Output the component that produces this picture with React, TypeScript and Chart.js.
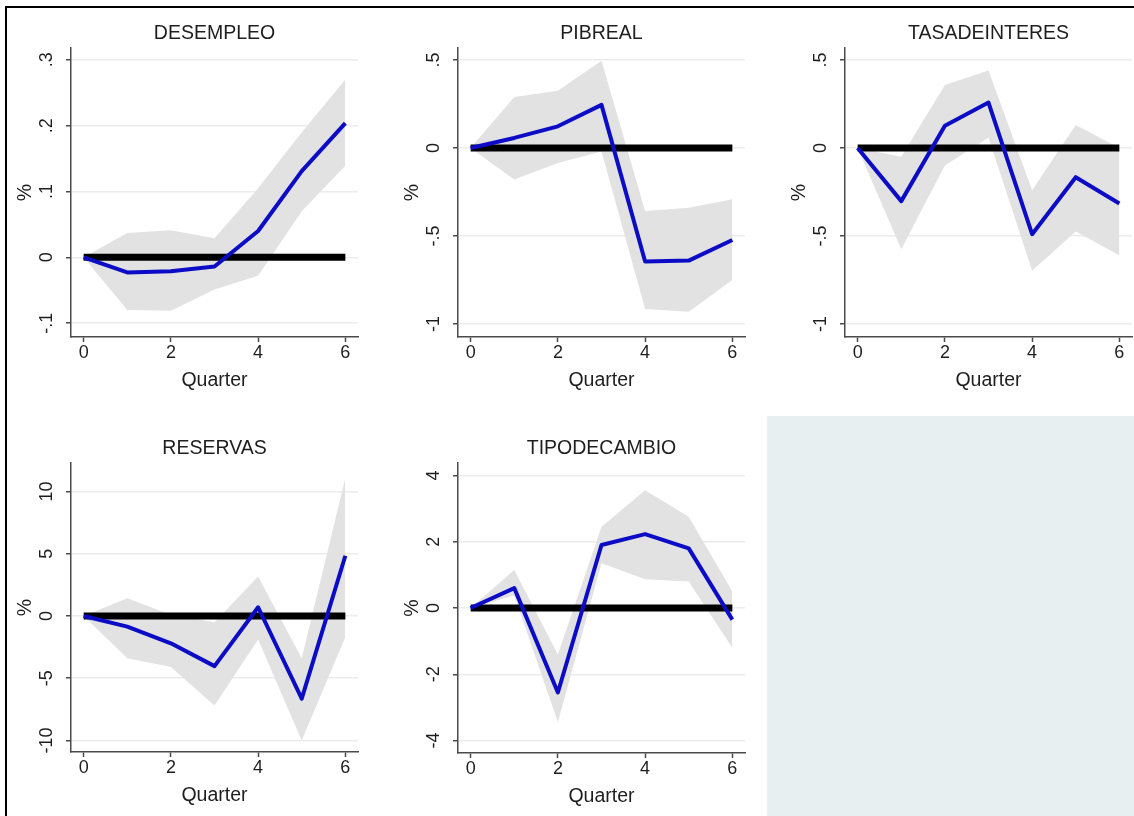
import React, { useEffect, useRef } from 'react';
import { Chart, registerables } from 'chart.js';

Chart.register(...registerables);

// ---------- data ----------
const QUARTERS = [0, 1, 2, 3, 4, 5, 6];
const X_TICKS = [0, 2, 4, 6];
const X_TITLE = 'Quarter';
const Y_TITLE = '%';

const DESEMPLEO_IRF = [0, -0.023, -0.021, -0.014, 0.04, 0.131, 0.204];
const DESEMPLEO_HI = [0, 0.037, 0.041, 0.029, 0.105, 0.19, 0.27];
const DESEMPLEO_LO = [0, -0.08, -0.081, -0.049, -0.028, 0.07, 0.139];
const DESEMPLEO_YTICKS = [-0.1, 0, 0.1, 0.2, 0.3];
const DESEMPLEO_YLABELS = ['-.1', '0', '.1', '.2', '.3'];

const PIBREAL_IRF = [0, 0.057, 0.123, 0.245, -0.645, -0.64, -0.523];
const PIBREAL_HI = [0, 0.29, 0.325, 0.496, -0.358, -0.34, -0.292];
const PIBREAL_LO = [0, -0.179, -0.085, -0.02, -0.915, -0.93, -0.75];
const PIBREAL_YTICKS = [-1, -0.5, 0, 0.5];
const PIBREAL_YLABELS = ['-1', '-.5', '0', '.5'];

const TASA_IRF = [0, -0.302, 0.126, 0.258, -0.49, -0.166, -0.315];
const TASA_HI = [0, -0.05, 0.358, 0.44, -0.24, 0.13, 0.0];
const TASA_LO = [0, -0.575, -0.1, 0.06, -0.698, -0.475, -0.61];
const TASA_YTICKS = [-1, -0.5, 0, 0.5];
const TASA_YLABELS = ['-1', '-.5', '0', '.5'];

const RESERVAS_IRF = [0, -0.86, -2.2, -4.03, 0.7, -6.64, 4.84];
const RESERVAS_HI = [0, 1.42, 0.1, -0.5, 3.17, -3.4, 11.1];
const RESERVAS_LO = [0, -3.4, -4.1, -7.2, -1.9, -10.0, -1.7];
const RESERVAS_YTICKS = [-10, -5, 0, 5, 10];
const RESERVAS_YLABELS = ['-10', '-5', '0', '5', '10'];

const TIPO_IRF = [0, 0.6, -2.55, 1.9, 2.23, 1.8, -0.35];
const TIPO_HI = [0, 1.15, -1.4, 2.45, 3.55, 2.75, 0.5];
const TIPO_LO = [0, 0.38, -3.45, 1.35, 0.87, 0.8, -1.2];
const TIPO_YTICKS = [-4, -2, 0, 2, 4];
const TIPO_YLABELS = ['-4', '-2', '0', '2', '4'];

// ---------- style ----------
const FONT = "'Liberation Sans', Arial, sans-serif";
const TEXT = '#1e1e1e';
const AXIS = '#4a4a4a';
const GRID = '#ececec';
const BAND = '#e2e2e2';
const BLUE = '#0c0cc6';
const X_MIN = -0.29;
const X_MAX = 6.29;
const Y_AXIS_W = 66;
const X_AXIS_H = 56;
const TOP_H = 48;
const TITLE_SIZE = 19.5;
const TICK_SIZE = 18;
const AXTITLE_SIZE = 19.5;

type Spec = {
  title: string;
  irf: number[];
  hi: number[];
  lo: number[];
  yTicks: number[];
  yLabels: string[];
  yMin: number;
  yMax: number;
  left: number;
  top: number;
  plotW: number;
  plotH: number;
  padRight: number;
};

const PANELS: Spec[] = [
  { title: 'DESEMPLEO', irf: DESEMPLEO_IRF, hi: DESEMPLEO_HI, lo: DESEMPLEO_LO, yTicks: DESEMPLEO_YTICKS, yLabels: DESEMPLEO_YLABELS, yMin: -0.121, yMax: 0.318, left: 5, top: 0, plotW: 287, plotH: 289, padRight: 20 },
  { title: 'PIBREAL', irf: PIBREAL_IRF, hi: PIBREAL_HI, lo: PIBREAL_LO, yTicks: PIBREAL_YTICKS, yLabels: PIBREAL_YLABELS, yMin: -1.074, yMax: 0.568, left: 392, top: 0, plotW: 287, plotH: 289, padRight: 20 },
  { title: 'TASADEINTERES', irf: TASA_IRF, hi: TASA_HI, lo: TASA_LO, yTicks: TASA_YTICKS, yLabels: TASA_YLABELS, yMin: -1.074, yMax: 0.568, left: 779, top: 0, plotW: 287, plotH: 289, padRight: 2 },
  { title: 'RESERVAS', irf: RESERVAS_IRF, hi: RESERVAS_HI, lo: RESERVAS_LO, yTicks: RESERVAS_YTICKS, yLabels: RESERVAS_YLABELS, yMin: -10.93, yMax: 12.29, left: 5, top: 415, plotW: 287, plotH: 289, padRight: 20 },
  { title: 'TIPODECAMBIO', irf: TIPO_IRF, hi: TIPO_HI, lo: TIPO_LO, yTicks: TIPO_YTICKS, yLabels: TIPO_YLABELS, yMin: -4.375, yMax: 4.375, left: 392, top: 415, plotW: 287, plotH: 290, padRight: 20 },
];

const yTickLabelPlugin = {
  id: 'yTickLabels',
  afterDraw(chart: any, _args: any, opts: any) {
    const s = chart.scales.y;
    const ctx = chart.ctx;
    ctx.save();
    ctx.fillStyle = TEXT;
    ctx.font = `${TICK_SIZE}px ${FONT}`;
    ctx.textAlign = 'center';
    ctx.textBaseline = 'middle';
    s.ticks.forEach((t: any) => {
      const idx = opts.values.indexOf(t.value);
      if (idx < 0) return;
      const y = s.getPixelForValue(t.value);
      ctx.save();
      ctx.translate(chart.chartArea.left - opts.offset, y);
      ctx.rotate(-Math.PI / 2);
      ctx.fillText(opts.labels[idx], 0, 0);
      ctx.restore();
    });
    ctx.restore();
  },
};

function Panel({ spec }: { spec: Spec }) {
  const ref = useRef<HTMLCanvasElement>(null);
  const w = Y_AXIS_W + spec.plotW + spec.padRight;
  const h = TOP_H + spec.plotH + X_AXIS_H;

  useEffect(() => {
    const canvas = ref.current!;
    const pts = (arr: number[]) => QUARTERS.map((q, i) => ({ x: q, y: arr[i] }));
    const chart = new Chart(canvas, {
      type: 'line',
      data: {
        datasets: [
          { label: 'upper', data: pts(spec.hi), borderWidth: 0, borderColor: 'rgba(0,0,0,0)', pointRadius: 0, backgroundColor: BAND, fill: '+1', order: 4, tension: 0 },
          { label: 'lower', data: pts(spec.lo), borderWidth: 0, borderColor: 'rgba(0,0,0,0)', pointRadius: 0, fill: false, order: 3, tension: 0 },
          { label: 'zero', data: [{ x: QUARTERS[0], y: 0 }, { x: QUARTERS[QUARTERS.length - 1], y: 0 }], borderColor: '#000000', borderWidth: 7, borderCapStyle: 'butt', pointRadius: 0, fill: false, order: 2 },
          { label: 'irf', data: pts(spec.irf), borderColor: BLUE, borderWidth: 4, borderJoinStyle: 'round', pointRadius: 0, fill: false, order: 1, tension: 0 },
        ] as any,
      },
      options: {
        responsive: false,
        animation: false,
        events: [],
        layout: { padding: { left: 0, right: spec.padRight, top: 0, bottom: 0 } },
        plugins: {
          legend: { display: false },
          tooltip: { enabled: false },
          title: {
            display: true,
            text: spec.title,
            fullSize: false,
            color: TEXT,
            font: { family: FONT, size: TITLE_SIZE, weight: 'normal', lineHeight: 1 },
            padding: { top: 24.25, bottom: 4.25 },
          },
          yTickLabels: { values: spec.yTicks, labels: spec.yLabels, offset: 24 },
        } as any,
        scales: {
          x: {
            type: 'linear',
            min: X_MIN,
            max: X_MAX,
            afterBuildTicks: (s: any) => { s.ticks = X_TICKS.map((v) => ({ value: v })); },
            afterFit: (s: any) => { s.height = X_AXIS_H; },
            grid: { drawOnChartArea: false, drawTicks: true, tickLength: 5, tickColor: AXIS, tickWidth: 1.5 },
            border: { display: true, color: AXIS, width: 1.5 },
            ticks: { color: TEXT, font: { family: FONT, size: TICK_SIZE, lineHeight: 1 }, padding: 2, maxRotation: 0, autoSkip: false, callback: (v: any) => String(v) },
            title: { display: true, text: X_TITLE, color: TEXT, font: { family: FONT, size: AXTITLE_SIZE, lineHeight: 1 }, padding: { top: 0, bottom: 2.25 } },
          },
          y: {
            type: 'linear',
            min: spec.yMin,
            max: spec.yMax,
            afterBuildTicks: (s: any) => { s.ticks = spec.yTicks.map((v) => ({ value: v })); },
            afterFit: (s: any) => { s.width = Y_AXIS_W; },
            grid: { color: GRID, lineWidth: 1.5, drawTicks: true, tickLength: 5, tickColor: AXIS, tickWidth: 1.5 },
            border: { display: true, color: AXIS, width: 1.5 },
            ticks: { display: false },
            title: { display: true, text: Y_TITLE, color: TEXT, font: { family: FONT, size: AXTITLE_SIZE, lineHeight: 1 }, padding: { top: 11.25, bottom: 0 } },
          },
        },
      } as any,
      plugins: [yTickLabelPlugin as any],
    });
    return () => chart.destroy();
  }, []);

  return (
    <canvas
      ref={ref}
      width={w}
      height={h}
      style={{ position: 'absolute', left: spec.left, top: spec.top, width: w, height: h }}
    />
  );
}

export default function App() {
  return (
    <div style={{ position: 'fixed', left: 0, top: 0, width: 1134, height: 816, overflow: 'hidden', background: '#ffffff' }}>
      <div style={{ position: 'absolute', left: 5, top: 6, width: 1200, height: 900, border: '2px solid #000', boxSizing: 'border-box' }} />
      <div style={{ position: 'absolute', left: 767, top: 416, width: 400, height: 420, background: '#e8eff1' }} />
      {PANELS.map((p) => (
        <Panel key={p.title} spec={p} />
      ))}
    </div>
  );
}
